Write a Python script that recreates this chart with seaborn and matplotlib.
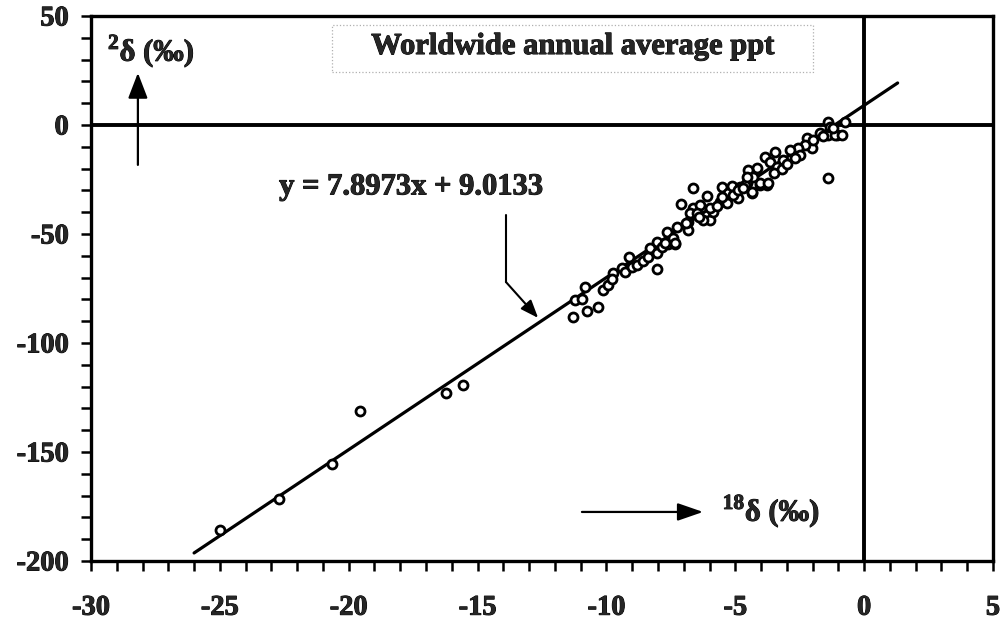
import numpy as np
import pandas as pd
import matplotlib
matplotlib.use("Agg")
import matplotlib.pyplot as plt
import matplotlib.patheffects as pe
from matplotlib.patches import Rectangle
from matplotlib.ticker import MultipleLocator
import seaborn as sns

# Annual mean isotope composition of precipitation (per mil)
d18O = [
    -24.99, -22.70, -20.66, -19.56, -16.24, -15.55,
    -11.28, -10.74, -10.34, -10.83, -11.22, -10.96, -10.12, -9.93, -9.73,
    -9.80, -9.41, -9.28, -9.12, -9.02, -8.80, -8.57, -8.37, -8.05, -8.31,
    -8.02, -8.05, -7.86, -7.60, -7.34,
    -6.65, -7.12, -6.11, -6.63, -6.37, -6.76, -6.50, -5.98, -6.24, -7.27,
    -7.66, -7.40, -7.73, -7.34, -6.82, -6.82, -5.85, -5.59, -5.53, -5.27,
    -5.14, -4.88, -4.82, -4.56, -4.37, -4.04, -3.78, -5.33,
    -1.39, -2.23, -1.71, -1.39, -1.06, -2.04, -2.29, -2.55, -2.88, -2.49,
    -3.46, -3.85, -3.65, -3.14, -4.17, -4.49, -4.04, -3.72, -4.37, -4.62,
    -4.30, -4.56, -3.39,
    -1.39, -1.13, -0.87, -0.74, -1.33,
    -6.90, -6.40, -6.00, -5.70, -5.50, -5.10, -4.90, -4.70, -3.50, -3.20,
    -3.00, -2.70, -2.00, -1.60, -1.20,
]
d2H = [
    -185.8, -171.7, -155.5, -131.0, -122.8, -119.3,
    -88.2, -85.3, -83.6, -74.2, -80.3, -80.0, -75.7, -73.4, -67.7,
    -70.8, -65.7, -67.6, -60.4, -65.0, -64.2, -62.2, -60.4, -66.1, -56.6,
    -58.9, -53.5, -55.8, -54.6, -54.6,
    -29.0, -36.2, -32.6, -38.2, -36.7, -40.5, -40.5, -43.6, -43.6, -46.6,
    -48.9, -52.0, -54.3, -54.3, -48.2, -44.3, -39.8, -35.2, -28.3, -31.3,
    -28.0, -33.6, -28.3, -26.8, -31.3, -27.5, -27.5, -35.9,
    -24.5, -6.1, -3.8, -4.6, -4.6, -10.7, -9.2, -10.7, -11.5, -13.8,
    -12.2, -14.5, -16.8, -16.1, -19.9, -20.6, -26.8, -26.8, -30.6, -27.5,
    -23.7, -23.7, -19.1,
    1.5, -4.6, -4.6, 1.5, -0.8,
    -45.0, -42.0, -38.0, -37.0, -33.0, -32.0, -30.0, -29.0, -22.0, -20.0,
    -18.0, -15.0, -7.0, -5.0, -1.5,
]

# Fitted meteoric water line
slope = 7.8973
intercept = 9.0133
fit_x = [-26.0, 1.3]

title_text = "Worldwide annual average ppt"
equation_text = "y = 7.8973x + 9.0133"
x_ticks = [-30, -25, -20, -15, -10, -5, 0, 5]
y_ticks = [-200, -150, -100, -50, 0, 50]

points = pd.DataFrame({"d18O": d18O, "d2H": d2H})
fit = pd.DataFrame({"x": fit_x, "y": [slope * v + intercept for v in fit_x]})

sns.set_theme(style="white")
plt.rcParams["font.family"] = ["Liberation Serif", "DejaVu Serif"]
plt.rcParams["font.weight"] = "bold"
plt.rcParams["mathtext.fontset"] = "custom"
plt.rcParams["mathtext.rm"] = "Liberation Serif:bold"

# slightly heavier strokes for all lettering
heavy = [pe.withStroke(linewidth=0.7, foreground="black")]

fig = plt.figure(figsize=(10.01, 6.25), dpi=100)
ax = fig.add_axes([0.0909, 0.1024, 0.9011, 0.872])

sns.lineplot(data=fit, x="x", y="y", ax=ax, color="black", linewidth=2.3,
             zorder=3, legend=False)
sns.scatterplot(data=points, x="d18O", y="d2H", ax=ax, s=42, marker="o",
                facecolor="white", edgecolor="black", linewidth=2.0,
                zorder=4, legend=False)

ax.set_xlim(-30, 5)
ax.set_ylim(-200, 50)
ax.axhline(0, color="black", linewidth=2.8, zorder=2)
ax.axvline(0, color="black", linewidth=2.8, zorder=2)

ax.set_xticks(x_ticks)
ax.set_yticks(y_ticks)
ax.set_xticklabels([str(t) for t in x_ticks])
ax.set_yticklabels([str(t) for t in y_ticks])
ax.xaxis.set_minor_locator(MultipleLocator(1))
ax.yaxis.set_minor_locator(MultipleLocator(10))
ax.tick_params(axis="both", which="both", direction="out", length=7,
               width=1.8, color="black", bottom=True, left=True)
ax.tick_params(axis="x", which="major", labelsize=20.5, pad=18)
ax.tick_params(axis="y", which="major", labelsize=20.5, pad=9)
for lab in ax.get_xticklabels() + ax.get_yticklabels():
    lab.set_fontweight("bold")
    lab.set_path_effects(heavy)
ax.set_xlabel("")
ax.set_ylabel("")
for sp in ax.spines.values():
    sp.set_color("black")
    sp.set_linewidth(2.4)

# Title in a faint dotted frame
ax.add_patch(Rectangle((-20.65, 24.3), 18.67, 21.6, fill=False,
                       edgecolor="#b0b0b0", linewidth=0.9, linestyle=":",
                       zorder=1))
ax.text(-11.3, 36.0, title_text, fontsize=22, fontweight="bold",
        ha="center", va="center", zorder=5, path_effects=heavy)

# Equation of the fitted line with a bent leader arrow
ax.text(-22.7, -28.4, equation_text, fontsize=22, fontweight="bold",
        ha="left", va="center", zorder=5, path_effects=heavy)
ax.plot([-13.9, -13.9], [-41.3, -72.0], color="black", linewidth=1.5, zorder=5)
ax.annotate("", xy=(-12.65, -88.5), xytext=(-13.9, -72.0),
            arrowprops=dict(arrowstyle="-|>,head_length=0.9,head_width=0.35",
                            color="black", linewidth=1.5, shrinkA=0, shrinkB=0),
            zorder=5)

# Axis labels drawn inside the frame with arrows
ax.annotate("", xy=(-28.18, 23.9), xytext=(-28.18, -18.3),
            arrowprops=dict(arrowstyle="-|>,head_length=1.3,head_width=0.5",
                            color="black", linewidth=1.6, shrinkA=0, shrinkB=0),
            zorder=5)
ax.text(-29.35, 34.0, r"$^{2}$δ (‰)", fontsize=22, fontweight="bold",
        ha="left", va="center", zorder=5, path_effects=heavy)

ax.annotate("", xy=(-6.25, -177.5), xytext=(-10.95, -177.5),
            arrowprops=dict(arrowstyle="-|>,head_length=1.3,head_width=0.45",
                            color="black", linewidth=1.6, shrinkA=0, shrinkB=0),
            zorder=5)
ax.text(-5.5, -177.0, r"$^{18}$δ (‰)", fontsize=22, fontweight="bold",
        ha="left", va="center", zorder=5, path_effects=heavy)

fig.savefig("out.png", dpi=100, facecolor="white")
